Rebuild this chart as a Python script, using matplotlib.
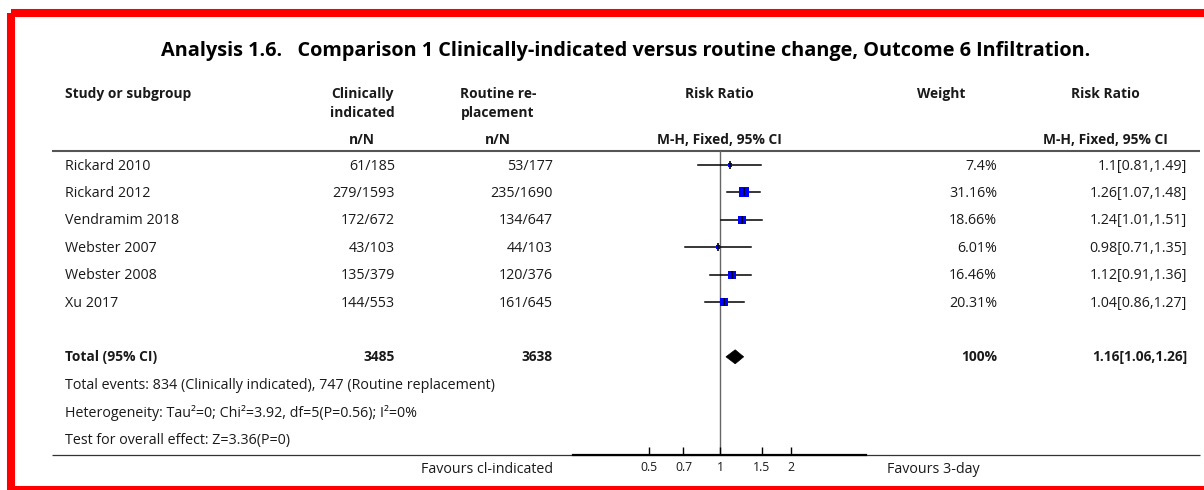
import numpy as np
import matplotlib
matplotlib.use("Agg")
import matplotlib.pyplot as plt
from matplotlib.patches import Polygon, Rectangle

plt.rcParams["font.family"] = ["Open Sans", "DejaVu Sans"]

W, H = 1204, 490
INK = "#1a1a1a"

studies = ["Rickard 2010", "Rickard 2012", "Vendramim 2018",
           "Webster 2007", "Webster 2008", "Xu 2017"]
ci_events = [61, 279, 172, 43, 135, 144]
ci_total = [185, 1593, 672, 103, 379, 553]
rr_events = [53, 235, 134, 44, 120, 161]
rr_total = [177, 1690, 647, 103, 376, 645]
weights = [7.4, 31.16, 18.66, 6.01, 16.46, 20.31]
rr = [1.1, 1.26, 1.24, 0.98, 1.12, 1.04]
rr_lo = [0.81, 1.07, 1.01, 0.71, 0.91, 0.86]
rr_hi = [1.49, 1.48, 1.51, 1.35, 1.36, 1.27]

total_ci_n = 3485
total_rr_n = 3638
total_events = (834, 747)
total_rr = (1.16, 1.06, 1.26)

axis_ticks = [0.5, 0.7, 1, 1.5, 2]
axis_ticklabels = ["0.5", "0.7", "1", "1.5", "2"]

# layout, in pixels from the top-left corner
ROW0, ROW_STEP = 165, 27.4
X_STUDY, X_CI, X_RR, X_W, X_EST = 65, 395, 553, 997, 1187
FOREST_L, FOREST_R, ONE_X, PX_PER_LN = 573, 866, 720, 102.4
LINE_TOP, LINE_BOT = 151, 455


def row_y(i):
    return ROW0 + ROW_STEP * i


fig = plt.figure(figsize=(W / 100, H / 100), dpi=100)
bg = fig.add_axes([0, 0, 1, 1])
bg.set_xlim(0, W)
bg.set_ylim(H, 0)
bg.axis("off")

body = dict(fontsize=10.3, color=INK, va="center")
bold = dict(body, fontsize=9.9, fontweight="bold")

bg.text(626, 51, "Analysis 1.6.   Comparison 1 Clinically-indicated versus routine change, "
        "Outcome 6 Infiltration.", fontsize=14.3, fontweight="bold", color="black",
        ha="center", va="center")

# column headers
bg.text(X_STUDY, 94, "Study or subgroup", ha="left", **bold)
bg.text(362, 94, "Clinically", ha="center", **bold)
bg.text(362, 113, "indicated", ha="center", **bold)
bg.text(498, 94, "Routine re-", ha="center", **bold)
bg.text(498, 113, "placement", ha="center", **bold)
bg.text(362, 140, "n/N", ha="center", **bold)
bg.text(498, 140, "n/N", ha="center", **bold)
bg.text(719, 94, "Risk Ratio", ha="center", **bold)
bg.text(719, 140, "M-H, Fixed, 95% CI", ha="center", **bold)
bg.text(941, 94, "Weight", ha="center", **bold)
bg.text(1105, 94, "Risk Ratio", ha="center", **bold)
bg.text(1105, 140, "M-H, Fixed, 95% CI", ha="center", **bold)

bg.plot([52, 1200], [LINE_TOP, LINE_TOP], color="#555555", lw=1.5, solid_capstyle="butt")
bg.plot([52, 1200], [LINE_BOT, LINE_BOT], color="#333333", lw=0.9, solid_capstyle="butt")

# study rows
for i, name in enumerate(studies):
    y = row_y(i) + 1
    bg.text(X_STUDY, y, name, ha="left", **body)
    bg.text(X_CI, y, f"{ci_events[i]}/{ci_total[i]}", ha="right", **body)
    bg.text(X_RR, y, f"{rr_events[i]}/{rr_total[i]}", ha="right", **body)
    bg.text(X_W, y, f"{weights[i]:g}%", ha="right", **body)
    bg.text(X_EST, y, f"{rr[i]:g}[{rr_lo[i]:g},{rr_hi[i]:g}]", ha="right", **body)

# total row and footnotes
yt = row_y(7)
bg.text(X_STUDY, yt, "Total (95% CI)", ha="left", **bold)
bg.text(X_CI, yt, f"{total_ci_n}", ha="right", **bold)
bg.text(X_RR, yt, f"{total_rr_n}", ha="right", **bold)
bg.text(X_W, yt, f"{sum(weights):.0f}%", ha="right", **bold)
bg.text(X_EST, yt, f"{total_rr[0]:g}[{total_rr[1]:g},{total_rr[2]:g}]", ha="right", **bold)

notes = [
    f"Total events: {total_events[0]} (Clinically indicated), {total_events[1]} (Routine replacement)",
    "Heterogeneity: Tau\u00b2=0; Chi\u00b2=3.92, df=5(P=0.56); I\u00b2=0%",
    "Test for overall effect: Z=3.36(P=0)",
]
for k, note in enumerate(notes):
    bg.text(X_STUDY, row_y(8 + k) + 1, note, ha="left", **body)

bg.text(553, 469, "Favours cl-indicated", ha="right", **body)
bg.text(887, 469, "Favours 3-day", ha="left", **body)

# red frame running off the right and bottom edges
bg.add_patch(Rectangle((11, 13), 1300, 477, fill=False, edgecolor="#ff0000", lw=5.8))

# forest plot on a log scale
x_min = np.exp((FOREST_L - ONE_X) / PX_PER_LN)
x_max = np.exp((FOREST_R - ONE_X) / PX_PER_LN)
ax = fig.add_axes([FOREST_L / W, 1 - LINE_BOT / H,
                   (FOREST_R - FOREST_L) / W, (LINE_BOT - LINE_TOP) / H])
ax.patch.set_alpha(0)
ax.set_xscale("log")
ax.set_xlim(x_min, x_max)
ax.set_ylim((LINE_BOT - ROW0) / ROW_STEP, (LINE_TOP - ROW0) / ROW_STEP)
for side in ["top", "left", "right"]:
    ax.spines[side].set_visible(False)
ax.spines["bottom"].set_linewidth(1.6)
ax.spines["bottom"].set_color("black")
ax.set_xticks(axis_ticks)
ax.set_xticklabels(axis_ticklabels)
ax.minorticks_off()
ax.tick_params(axis="x", direction="in", length=6, width=1, color="black",
               labelsize=8.8, labelcolor=INK, pad=4)
ax.set_yticks([])

ax.axvline(1, color="#666666", lw=1, zorder=1)

for i in range(len(studies)):
    ax.plot([rr_lo[i], rr_hi[i]], [i, i], color="black", lw=1.1, zorder=2)
    side_px = 1.75 * np.sqrt(weights[i])
    ax.plot(rr[i], i, marker="s", color="#0000ff", markersize=side_px * 0.72,
            markeredgewidth=0, zorder=3)
    ax.plot(rr[i], i, marker="|", color="black", markersize=8 * 0.72,
            markeredgewidth=1.2, zorder=4)

h = 7 / ROW_STEP
est, lo, hi = total_rr
ax.add_patch(Polygon([(lo, 7), (est, 7 - h), (hi, 7), (est, 7 + h)],
                     closed=True, facecolor="black", edgecolor="black", lw=0.5, zorder=3))

fig.savefig("out.png", dpi=100)
